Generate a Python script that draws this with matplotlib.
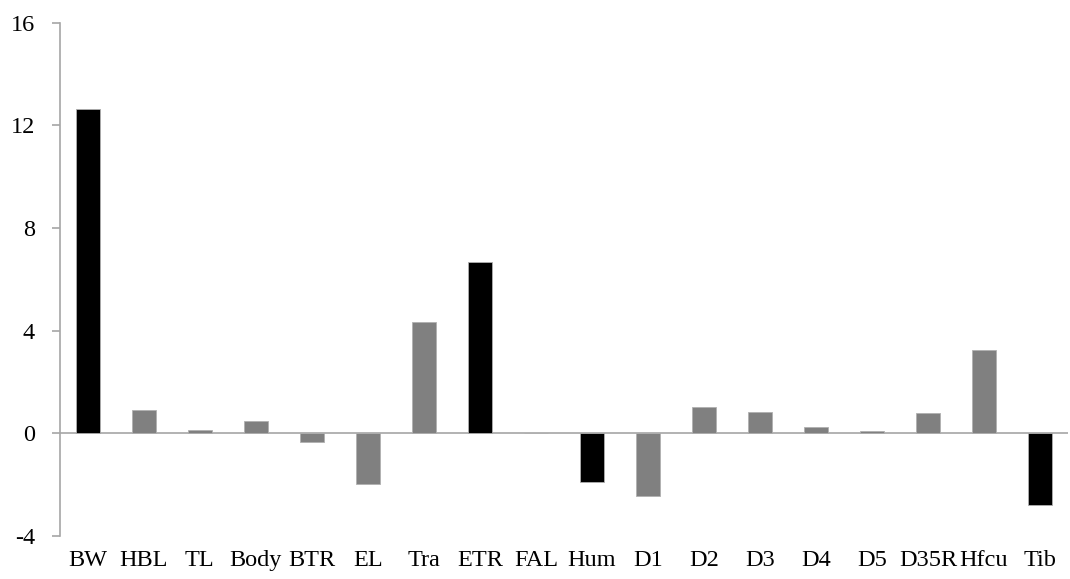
import matplotlib
matplotlib.use("Agg")
import matplotlib.pyplot as plt

categories = ["BW", "HBL", "TL", "Body", "BTR", "EL", "Tra", "ETR", "FAL",
              "Hum", "D1", "D2", "D3", "D4", "D5", "D35R", "Hfcu", "Tib"]
values = [12.65, 0.92, 0.13, 0.49, -0.34, -1.97, 4.35, 6.69, 0.0,
          -1.9, -2.44, 1.04, 0.84, 0.26, 0.08, 0.79, 3.25, -2.81]
highlight = ["BW", "ETR", "Hum", "Tib"]
yticks = [-4, 0, 4, 8, 12, 16]

plt.rcParams['font.family'] = ['Liberation Serif', 'DejaVu Serif']
plt.rcParams['axes.unicode_minus'] = False

fig = plt.figure(figsize=(10.70, 5.79), dpi=100)
ax = fig.add_axes([0.056, 0.0743, 0.942, 0.8863])

colors = ["#000000" if c in highlight else "#808080" for c in categories]
x = list(range(len(categories)))
ax.bar(x, values, width=0.43, color=colors, edgecolor="#b0b0b0", linewidth=0.6, zorder=3)
ax.axhline(0, color="#a6a6a6", linewidth=1.2, zorder=2)

ax.set_xlim(-0.5, len(categories) - 0.5)
ax.set_ylim(-4, 16)
ax.set_yticks(yticks)
ax.set_yticklabels([str(t) for t in yticks])
ax.set_xticks(x)
ax.set_xticklabels(categories)

for s in ["top", "right", "bottom"]:
    ax.spines[s].set_visible(False)
ax.spines["left"].set_color("#a6a6a6")
ax.spines["left"].set_linewidth(1.2)
ax.tick_params(axis="y", direction="out", length=6, width=1.2, color="#a6a6a6",
               labelsize=17.5, pad=12)
ax.tick_params(axis="x", length=0, labelsize=17.5, pad=10)

fig.savefig("out.png", dpi=100)
